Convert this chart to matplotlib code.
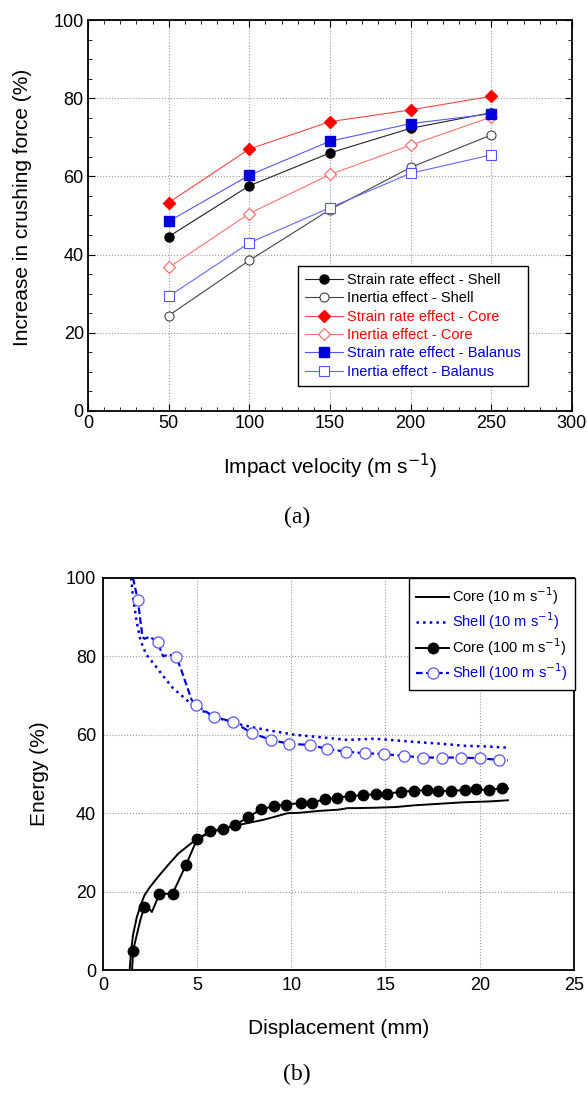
import numpy as np
import matplotlib
matplotlib.use('Agg')
import matplotlib.pyplot as plt
from matplotlib.ticker import MultipleLocator

plt.rcParams['font.family'] = ['Liberation Sans', 'DejaVu Sans']

# ---- (a) increase in crushing force ----
velocity = [50, 100, 150, 200, 250]
sr_shell = [44.6, 57.6, 66.0, 72.3, 76.3]
in_shell = [24.4, 38.5, 51.5, 62.3, 70.6]
sr_core = [53.3, 67.0, 74.0, 77.0, 80.5]
in_core = [36.7, 50.5, 60.5, 68.0, 75.2]
sr_bal = [48.5, 60.3, 69.0, 73.5, 76.0]
in_bal = [29.3, 43.0, 52.0, 60.8, 65.5]

# ---- (b) energy vs displacement ----
core10_x = [1.42, 1.5, 1.6, 1.8, 2.0, 2.2, 2.47, 3.0, 3.5, 4.0, 4.6, 5.0, 5.6, 6.3,
            7.0, 7.7, 8.5, 9.2, 9.8, 10.4, 11.5, 12.5, 13.0, 13.4, 14.5, 15.6,
            16.5, 17.5, 18.5, 19.2, 20.5, 21.5]
core10_y = [0.0, 5.0, 9.0, 13.5, 16.5, 19.0, 21.0, 24.2, 27.0, 29.7, 32.0, 33.5, 34.8, 36.0,
            36.8, 37.5, 38.3, 39.2, 40.0, 40.1, 40.6, 40.9, 41.3, 41.3, 41.4, 41.6,
            42.0, 42.3, 42.6, 42.8, 43.0, 43.3]

core100_x = [1.55, 1.6, 1.8, 2.0, 2.2, 2.4, 2.6, 3.0, 3.7, 4.4, 5.0, 5.7, 6.4, 7.0, 7.7,
             8.4, 9.1, 9.7, 10.5, 11.1, 11.8, 12.4, 13.1, 13.8, 14.5, 15.1, 15.8,
             16.5, 17.2, 17.8, 18.5, 19.2, 19.8, 20.5, 21.2, 21.5]
core100_y = [0.0, 4.9, 9.0, 13.0, 16.0, 16.0, 14.8, 19.4, 19.5, 26.7, 33.4, 35.4, 36.1,
             36.9, 39.0, 41.0, 41.8, 42.2, 42.6, 42.7, 43.6, 43.9, 44.4, 44.6, 44.9,
             44.9, 45.5, 45.7, 45.9, 45.7, 45.7, 45.9, 46.1, 45.9, 46.4, 46.3]
core100_mark = [1, 4, 7, 8] + list(range(9, 35))

shell10_x = [1.5, 1.6, 1.8, 2.0, 2.3, 2.8, 3.2, 3.7, 4.3, 4.9, 5.5, 6.0, 6.7, 7.4, 8.6,
             10.2, 11.5, 13.0, 14.4, 15.5, 16.5, 18.0, 19.2, 20.5, 21.5]
shell10_y = [100.0, 95.0, 88.7, 84.0, 80.5, 77.5, 75.0, 72.0, 69.5, 67.0, 65.6, 64.5,
             63.4, 62.5, 61.3, 60.0, 59.4, 58.7, 59.0, 58.6, 58.2, 57.7, 57.2, 57.0, 56.7]

shell100_x = [1.6, 1.85, 2.1, 2.2, 2.5, 2.9, 3.2, 3.5, 3.9, 4.2, 4.7, 4.95, 5.9, 6.9,
              7.9, 8.9, 9.9, 11.0, 11.9, 12.9, 13.9, 14.9, 16.0, 17.0, 18.0, 19.0,
              20.0, 21.0, 21.5]
shell100_y = [100.0, 94.4, 85.0, 84.5, 85.0, 83.6, 80.0, 80.5, 79.8, 76.0, 69.0, 67.5,
              64.6, 63.3, 60.5, 58.7, 57.7, 57.4, 56.4, 55.7, 55.3, 55.1, 54.6, 54.2,
              54.2, 54.2, 54.0, 53.6, 53.5]
shell100_mark = [1, 5, 8] + list(range(11, 28))

fig = plt.figure(figsize=(5.88, 10.93), dpi=100)

# ---------------- (a) ----------------
ax1 = fig.add_axes([0.1497, 0.624, 0.823, 0.3577])
ms = 6.5
ax1.plot(velocity, sr_shell, '-o', color='#222222', lw=0.8, ms=ms, mfc='black', mec='black',
         label='Strain rate effect - Shell')
ax1.plot(velocity, in_shell, '-o', color='#444444', lw=0.8, ms=ms, mfc='white', mec='#444444',
         mew=0.8, label='Inertia effect - Shell')
ax1.plot(velocity, sr_core, '-D', color='#ff4444', lw=0.8, ms=ms, mfc='red', mec='red',
         label='Strain rate effect - Core')
ax1.plot(velocity, in_core, '-D', color='#ff7070', lw=0.8, ms=ms, mfc='white', mec='#ff6060',
         mew=0.8, label='Inertia effect - Core')
ax1.plot(velocity, sr_bal, '-s', color='#5555ff', lw=0.8, ms=ms, mfc='#0000dd', mec='#0000dd',
         label='Strain rate effect - Balanus')
ax1.plot(velocity, in_bal, '-s', color='#6666ff', lw=0.8, ms=ms, mfc='white', mec='#5555ff',
         mew=0.8, label='Inertia effect - Balanus')
ax1.set_xlim(0, 300)
ax1.set_ylim(0, 100)
ax1.xaxis.set_major_locator(MultipleLocator(50))
ax1.xaxis.set_minor_locator(MultipleLocator(10))
ax1.yaxis.set_major_locator(MultipleLocator(20))
ax1.yaxis.set_minor_locator(MultipleLocator(5))
ax1.tick_params(which='both', direction='in', top=True, right=True, labelsize=13, pad=3)
ax1.tick_params(which='major', length=5)
ax1.tick_params(which='minor', length=3)
ax1.grid(True, which='major', color='#999999', ls=':', lw=0.8)
for s in ax1.spines.values():
    s.set_linewidth(1.3)
ax1.set_ylabel('Increase in crushing force (%)', fontsize=15, labelpad=14)
ax1.yaxis.set_label_coords(-0.116, 0.52)
ax1.set_xlabel('Impact velocity (m s$^{-1}$)', fontsize=15, labelpad=14)
leg1 = ax1.legend(loc='lower right', bbox_to_anchor=(0.925, 0.045), fontsize=10.5,
                  fancybox=False, edgecolor='black', framealpha=1, handlelength=2.6,
                  handletextpad=0.3, borderpad=0.5, labelspacing=0.3)
leg1.get_frame().set_linewidth(1.0)
for txt, c in zip(leg1.get_texts(), ['black', 'black', 'red', 'red', '#0000dd', '#0000dd']):
    txt.set_color(c)

# ---------------- (b) ----------------
ax2 = fig.add_axes([0.175, 0.1125, 0.801, 0.3587])
ax2.plot(core10_x, core10_y, '-', color='black', lw=1.4, label='Core (10 m s$^{-1}$)')
ax2.plot(shell10_x, shell10_y, ':', color='#0000dd', lw=1.8, label='Shell (10 m s$^{-1}$)')
ax2.plot(core100_x, core100_y, '-o', color='black', lw=1.4, ms=7.5, mfc='black',
         markevery=core100_mark, label='Core (100 m s$^{-1}$)')
ax2.plot(shell100_x, shell100_y, '--o', color='#0000dd', lw=1.6, ms=8, mfc='white',
         mec='#5555ff', mew=0.9, markevery=shell100_mark, dashes=(3, 1.5),
         label='Shell (100 m s$^{-1}$)')
ax2.set_xlim(0, 25)
ax2.set_ylim(0, 100)
ax2.xaxis.set_major_locator(MultipleLocator(5))
ax2.yaxis.set_major_locator(MultipleLocator(20))
ax2.tick_params(which='both', length=0, labelsize=13, pad=5)
ax2.grid(True, which='major', color='#999999', ls=':', lw=0.8)
for s in ax2.spines.values():
    s.set_linewidth(1.3)
ax2.set_ylabel('Energy (%)', fontsize=15, labelpad=12)
ax2.set_xlabel('Displacement (mm)', fontsize=15, labelpad=18)
leg2 = ax2.legend(loc='upper right', bbox_to_anchor=(1.002, 1.0), borderaxespad=0,
                  fontsize=10.5, fancybox=False, edgecolor='black', framealpha=1,
                  handlelength=2.3, handletextpad=0.2, borderpad=0.5, labelspacing=0.25)
leg2.get_frame().set_linewidth(1.0)
for txt, c in zip(leg2.get_texts(), ['black', '#0000dd', 'black', '#0000dd']):
    txt.set_color(c)

fig.text(297 / 588, 1 - 517 / 1093, '(a)', ha='center', va='center', fontsize=17,
         family='Liberation Serif')
fig.text(297 / 588, 1 - 1074 / 1093, '(b)', ha='center', va='center', fontsize=17,
         family='Liberation Serif')

fig.savefig('out.png', dpi=100)
